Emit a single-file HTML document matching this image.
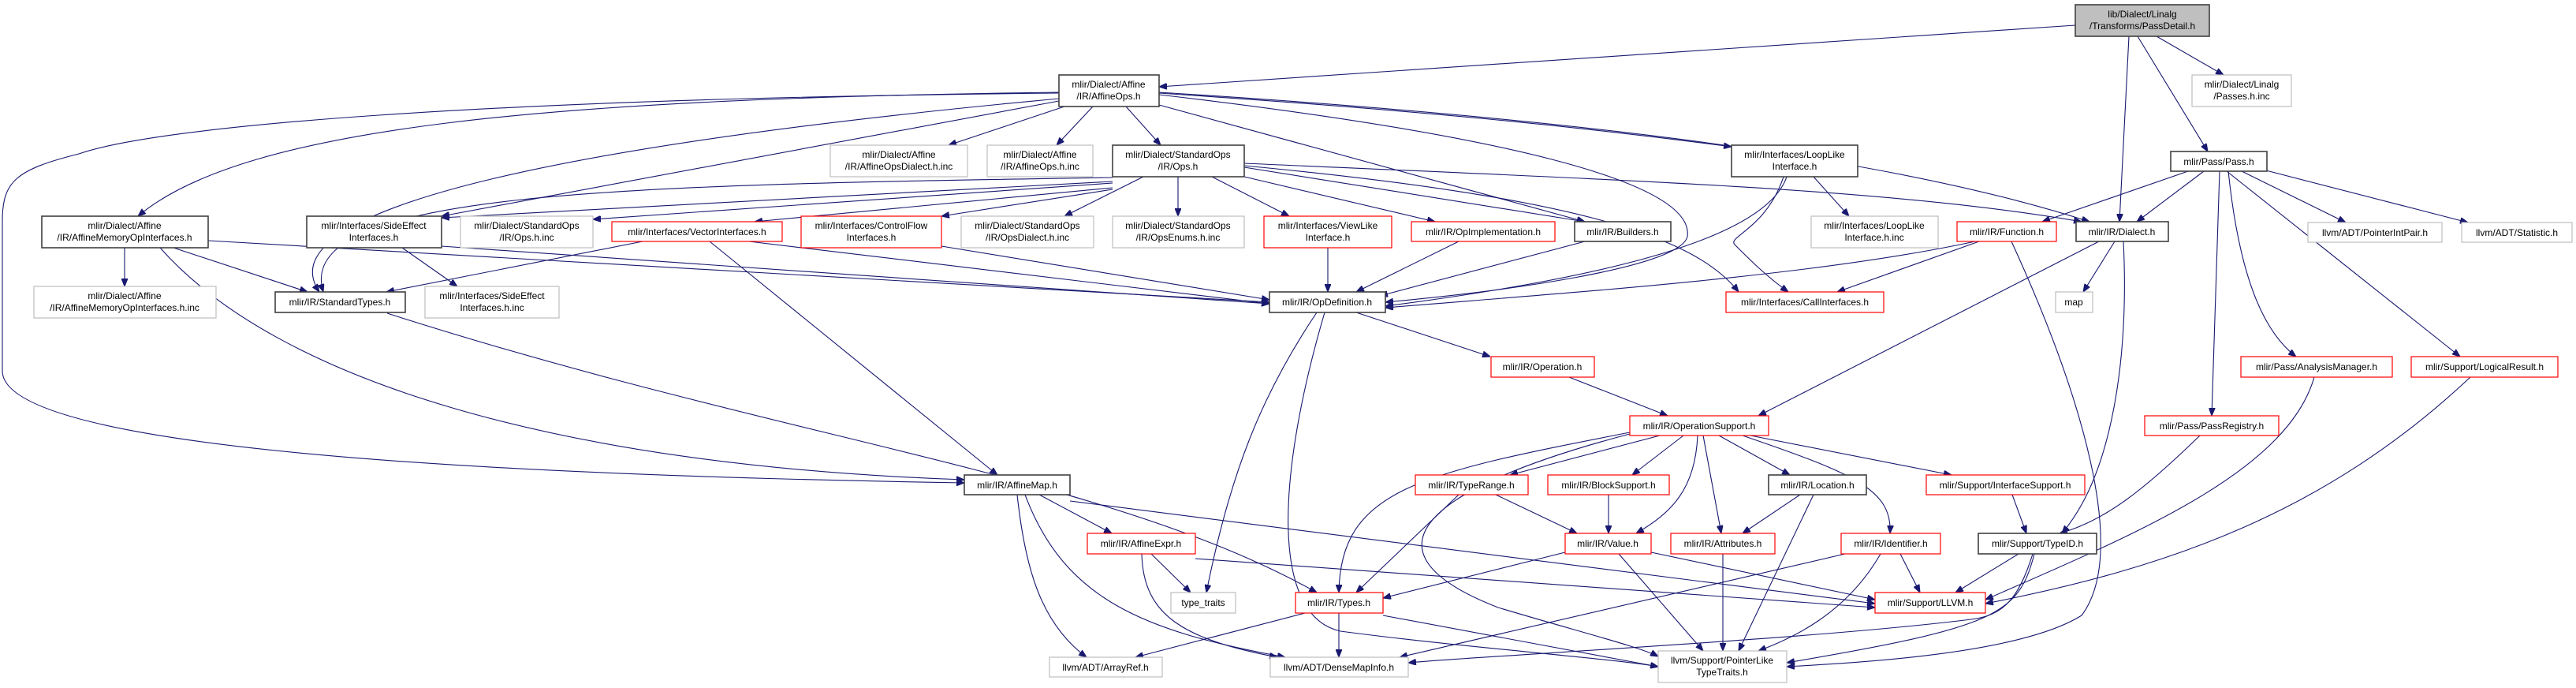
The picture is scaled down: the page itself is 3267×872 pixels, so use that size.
<!DOCTYPE html>
<html><head><meta charset="utf-8"><style>
html,body{margin:0;padding:0;background:#fff;}
svg{display:block;}
text{font-family:"Liberation Sans",sans-serif;font-size:12px;fill:#000;text-anchor:middle;}
.e{fill:none;stroke:#191970;stroke-width:1.1;marker-end:url(#a);}
.k{fill:#fff;stroke:#404040;stroke-width:1.6;}
.r{fill:#fff;stroke:#ff0000;stroke-width:1.2;}
.g{fill:#fff;stroke:#bfbfbf;stroke-width:1.2;}
.s{fill:#bfbfbf;stroke:#404040;stroke-width:1.6;}
</style></head><body>
<svg width="3267" height="872" viewBox="0 0 3267 872" xmlns="http://www.w3.org/2000/svg">
<defs><marker id="a" viewBox="0 0 10 8" refX="10" refY="4" markerWidth="10" markerHeight="8" markerUnits="userSpaceOnUse" orient="auto"><path d="M0,0 L10,4 L0,8 z" fill="#191970" stroke="#191970"/></marker></defs>
<g>
<path class="e" d="M2632,32 L1470,110"/>
<path class="e" d="M2700,46 L2688,281"/>
<path class="e" d="M2711,46 L2800,192"/>
<path class="e" d="M2735,46 L2820,95"/>
<path class="e" d="M1343,117 C700,125 310,160 175,274"/>
<path class="e" d="M1343,118 C600,125 200,160 100,195 C20,215 3,230 3,280 L3,470 C3,560 500,600 1223,612"/>
<path class="e" d="M1343,125 C750,180 330,260 405,370"/>
<path class="e" d="M1343,128 L560,274"/>
<path class="e" d="M1350,135 L1203,184"/>
<path class="e" d="M1386,135 L1340,184"/>
<path class="e" d="M1428,135 L1472,184"/>
<path class="e" d="M1470,118 C1800,140 2000,160 2196,186"/>
<path class="e" d="M1470,133 L2010,281"/>
<path class="e" d="M1470,117 C2000,150 2400,200 2650,281"/>
<path class="e" d="M1470,120 C1900,170 2150,230 2140,300 C2130,340 1900,370 1757,383"/>
<path class="e" d="M1411,225 C800,235 370,240 410,370"/>
<path class="e" d="M1411,230 L560,276"/>
<path class="e" d="M1411,232 L752,278"/>
<path class="e" d="M1411,238 L957,281"/>
<path class="e" d="M1411,240 L1194,274"/>
<path class="e" d="M1450,224 L1350,274"/>
<path class="e" d="M1494,224 L1494,274"/>
<path class="e" d="M1537,224 L1635,274"/>
<path class="e" d="M1578,224 L1820,281"/>
<path class="e" d="M1578,212 L2010,281"/>
<path class="e" d="M1578,207 C2100,230 2400,240 2640,281"/>
<path class="e" d="M1578,210 C2000,250 2150,300 2205,370"/>
<path class="e" d="M158,314 L158,363"/>
<path class="e" d="M220,314 L390,370"/>
<path class="e" d="M264,305 L1610,383"/>
<path class="e" d="M203,314 C350,480 700,590 1223,608"/>
<path class="e" d="M510,314 L580,363"/>
<path class="e" d="M560,312 L1610,385"/>
<path class="e" d="M815,306 L490,370"/>
<path class="e" d="M900,306 L1265,602"/>
<path class="e" d="M950,306 L1610,385"/>
<path class="e" d="M1194,312 L1610,380"/>
<path class="e" d="M1684,314 L1684,370"/>
<path class="e" d="M1850,306 L1720,370"/>
<path class="e" d="M2010,306 L1750,375"/>
<path class="e" d="M2266,224 C2240,300 2050,350 1757,388"/>
<path class="e" d="M2262,224 C2240,290 2190,300 2200,310 C2220,330 2240,350 2268,370"/>
<path class="e" d="M2300,224 L2345,274"/>
<path class="e" d="M2505,306 C2300,350 2000,370 1757,390"/>
<path class="e" d="M2510,306 L2330,370"/>
<path class="e" d="M2551,306 C2640,500 2700,700 2640,780 C2560,830 2350,840 2266,845"/>
<path class="e" d="M2662,306 L2230,527"/>
<path class="e" d="M2682,306 L2642,370"/>
<path class="e" d="M2693,306 C2700,450 2680,600 2615,676"/>
<path class="e" d="M2775,217 L2590,281"/>
<path class="e" d="M2795,217 L2710,281"/>
<path class="e" d="M2843,217 L2975,282"/>
<path class="e" d="M2870,215 L3130,282"/>
<path class="e" d="M2826,217 C2840,350 2870,420 2912,452"/>
<path class="e" d="M2824,217 L3120,452"/>
<path class="e" d="M2815,217 L2805,527"/>
<path class="e" d="M1720,396 L1890,452"/>
<path class="e" d="M1670,396 C1600,500 1560,600 1530,751"/>
<path class="e" d="M1680,396 C1620,600 1610,780 1700,800 C1850,820 2050,835 2103,845"/>
<path class="e" d="M1990,478 L2115,527"/>
<path class="e" d="M2067,548 C1800,600 1700,620 1698,751"/>
<path class="e" d="M2067,550 C1800,620 1720,700 1900,770 C2000,800 2080,820 2103,832"/>
<path class="e" d="M2105,552 L1915,602"/>
<path class="e" d="M2135,552 L2070,602"/>
<path class="e" d="M2153,552 C2150,620 2120,650 2075,676"/>
<path class="e" d="M2160,552 L2183,676"/>
<path class="e" d="M2180,552 L2270,602"/>
<path class="e" d="M2210,552 C2350,600 2400,620 2397,676"/>
<path class="e" d="M2220,552 L2475,602"/>
<path class="e" d="M1290,627 C1300,720 1320,790 1378,833"/>
<path class="e" d="M1300,627 C1350,760 1450,800 1630,833"/>
<path class="e" d="M1318,627 L1410,676"/>
<path class="e" d="M1357,635 L2378,765"/>
<path class="e" d="M1460,702 L1510,751"/>
<path class="e" d="M1448,702 C1450,780 1500,810 1620,833"/>
<path class="e" d="M1516,708 L2378,770"/>
<path class="e" d="M1850,627 L1720,751"/>
<path class="e" d="M1897,627 L2000,676"/>
<path class="e" d="M2040,627 L2040,676"/>
<path class="e" d="M1985,700 L1754,758"/>
<path class="e" d="M2053,702 L2160,825"/>
<path class="e" d="M2094,700 L2378,760"/>
<path class="e" d="M2185,702 L2185,825"/>
<path class="e" d="M2283,627 L2210,676"/>
<path class="e" d="M2300,627 L2205,825"/>
<path class="e" d="M2410,702 L2435,751"/>
<path class="e" d="M2385,702 C2340,780 2270,810 2230,825"/>
<path class="e" d="M2340,702 L1775,833"/>
<path class="e" d="M2552,627 L2570,676"/>
<path class="e" d="M2560,702 L2480,751"/>
<path class="e" d="M2580,702 C2560,780 2530,795 2266,840"/>
<path class="e" d="M2578,702 C2560,760 2540,780 2500,785 C2300,810 1900,830 1786,840"/>
<path class="e" d="M2790,552 C2720,620 2670,660 2612,676"/>
<path class="e" d="M2935,478 C2900,600 2700,680 2518,760"/>
<path class="e" d="M3133,478 C2950,650 2750,720 2518,765"/>
<path class="e" d="M1655,777 L1440,833"/>
<path class="e" d="M1698,777 L1698,833"/>
<path class="e" d="M1754,780 L2103,845"/>
<path class="e" d="M491,397 C1000,560 1400,600 1670,751"/>
</g>
<g>
<rect class="s" x="2632" y="6" width="170" height="40"/><text x="2717" y="22">lib/Dialect/Linalg</text><text x="2717" y="37">/Transforms/PassDetail.h</text>
<rect class="k" x="1343" y="95" width="127" height="40"/><text x="1406" y="111">mlir/Dialect/Affine</text><text x="1406" y="126">/IR/AffineOps.h</text>
<rect class="g" x="2780" y="95" width="126" height="40"/><text x="2843" y="111">mlir/Dialect/Linalg</text><text x="2843" y="126">/Passes.h.inc</text>
<rect class="g" x="1053" y="184" width="174" height="40"/><text x="1140" y="200">mlir/Dialect/Affine</text><text x="1140" y="215">/IR/AffineOpsDialect.h.inc</text>
<rect class="g" x="1252" y="184" width="134" height="40"/><text x="1319" y="200">mlir/Dialect/Affine</text><text x="1319" y="215">/IR/AffineOps.h.inc</text>
<rect class="k" x="1411" y="184" width="167" height="40"/><text x="1494" y="200">mlir/Dialect/StandardOps</text><text x="1494" y="215">/IR/Ops.h</text>
<rect class="k" x="2196" y="184" width="160" height="40"/><text x="2276" y="200">mlir/Interfaces/LoopLike</text><text x="2276" y="215">Interface.h</text>
<rect class="k" x="2753" y="192" width="122" height="25"/><text x="2814" y="209">mlir/Pass/Pass.h</text>
<rect class="k" x="53" y="274" width="211" height="40"/><text x="158" y="290">mlir/Dialect/Affine</text><text x="158" y="305">/IR/AffineMemoryOpInterfaces.h</text>
<rect class="k" x="389" y="274" width="171" height="40"/><text x="474" y="290">mlir/Interfaces/SideEffect</text><text x="474" y="305">Interfaces.h</text>
<rect class="g" x="584" y="274" width="168" height="40"/><text x="668" y="290">mlir/Dialect/StandardOps</text><text x="668" y="305">/IR/Ops.h.inc</text>
<rect class="r" x="776" y="281" width="216" height="25"/><text x="884" y="298">mlir/Interfaces/VectorInterfaces.h</text>
<rect class="r" x="1016" y="274" width="178" height="40"/><text x="1105" y="290">mlir/Interfaces/ControlFlow</text><text x="1105" y="305">Interfaces.h</text>
<rect class="g" x="1219" y="274" width="168" height="40"/><text x="1303" y="290">mlir/Dialect/StandardOps</text><text x="1303" y="305">/IR/OpsDialect.h.inc</text>
<rect class="g" x="1411" y="274" width="167" height="40"/><text x="1494" y="290">mlir/Dialect/StandardOps</text><text x="1494" y="305">/IR/OpsEnums.h.inc</text>
<rect class="r" x="1603" y="274" width="162" height="40"/><text x="1684" y="290">mlir/Interfaces/ViewLike</text><text x="1684" y="305">Interface.h</text>
<rect class="r" x="1790" y="281" width="182" height="25"/><text x="1881" y="298">mlir/IR/OpImplementation.h</text>
<rect class="k" x="1997" y="281" width="122" height="25"/><text x="2058" y="298">mlir/IR/Builders.h</text>
<rect class="g" x="2297" y="274" width="161" height="40"/><text x="2377" y="290">mlir/Interfaces/LoopLike</text><text x="2377" y="305">Interface.h.inc</text>
<rect class="r" x="2482" y="281" width="126" height="25"/><text x="2545" y="298">mlir/IR/Function.h</text>
<rect class="k" x="2633" y="281" width="117" height="25"/><text x="2691" y="298">mlir/IR/Dialect.h</text>
<rect class="g" x="2927" y="282" width="170" height="25"/><text x="3012" y="299">llvm/ADT/PointerIntPair.h</text>
<rect class="g" x="3122" y="282" width="140" height="25"/><text x="3192" y="299">llvm/ADT/Statistic.h</text>
<rect class="g" x="43" y="363" width="231" height="40"/><text x="158" y="379">mlir/Dialect/Affine</text><text x="158" y="394">/IR/AffineMemoryOpInterfaces.h.inc</text>
<rect class="k" x="349" y="370" width="165" height="26"/><text x="431" y="387">mlir/IR/StandardTypes.h</text>
<rect class="g" x="539" y="363" width="170" height="40"/><text x="624" y="379">mlir/Interfaces/SideEffect</text><text x="624" y="394">Interfaces.h.inc</text>
<rect class="k" x="1610" y="370" width="147" height="26"/><text x="1683" y="387">mlir/IR/OpDefinition.h</text>
<rect class="r" x="2189" y="370" width="200" height="26"/><text x="2289" y="387">mlir/Interfaces/CallInterfaces.h</text>
<rect class="g" x="2607" y="370" width="47" height="26"/><text x="2630" y="387">map</text>
<rect class="r" x="1891" y="452" width="131" height="26"/><text x="1956" y="469">mlir/IR/Operation.h</text>
<rect class="r" x="2842" y="452" width="192" height="26"/><text x="2938" y="469">mlir/Pass/AnalysisManager.h</text>
<rect class="r" x="3058" y="452" width="186" height="26"/><text x="3151" y="469">mlir/Support/LogicalResult.h</text>
<rect class="r" x="2067" y="527" width="176" height="25"/><text x="2155" y="544">mlir/IR/OperationSupport.h</text>
<rect class="r" x="2720" y="527" width="170" height="25"/><text x="2805" y="544">mlir/Pass/PassRegistry.h</text>
<rect class="k" x="1223" y="602" width="134" height="25"/><text x="1290" y="619">mlir/IR/AffineMap.h</text>
<rect class="r" x="1795" y="602" width="143" height="25"/><text x="1866" y="619">mlir/IR/TypeRange.h</text>
<rect class="r" x="1963" y="602" width="154" height="25"/><text x="2040" y="619">mlir/IR/BlockSupport.h</text>
<rect class="k" x="2243" y="602" width="124" height="25"/><text x="2305" y="619">mlir/IR/Location.h</text>
<rect class="r" x="2443" y="602" width="201" height="25"/><text x="2543" y="619">mlir/Support/InterfaceSupport.h</text>
<rect class="r" x="1379" y="676" width="137" height="26"/><text x="1447" y="693">mlir/IR/AffineExpr.h</text>
<rect class="r" x="1985" y="676" width="109" height="26"/><text x="2039" y="693">mlir/IR/Value.h</text>
<rect class="r" x="2119" y="676" width="132" height="26"/><text x="2185" y="693">mlir/IR/Attributes.h</text>
<rect class="r" x="2335" y="676" width="126" height="26"/><text x="2398" y="693">mlir/IR/Identifier.h</text>
<rect class="k" x="2509" y="676" width="150" height="26"/><text x="2584" y="693">mlir/Support/TypeID.h</text>
<rect class="g" x="1485" y="751" width="82" height="26"/><text x="1526" y="768">type_traits</text>
<rect class="r" x="1643" y="751" width="111" height="26"/><text x="1698" y="768">mlir/IR/Types.h</text>
<rect class="r" x="2378" y="751" width="140" height="26"/><text x="2448" y="768">mlir/Support/LLVM.h</text>
<rect class="g" x="1331" y="833" width="143" height="25"/><text x="1402" y="850">llvm/ADT/ArrayRef.h</text>
<rect class="g" x="1611" y="833" width="175" height="25"/><text x="1698" y="850">llvm/ADT/DenseMapInfo.h</text>
<rect class="g" x="2103" y="825" width="163" height="40"/><text x="2184" y="841">llvm/Support/PointerLike</text><text x="2184" y="856">TypeTraits.h</text>
</g>
</svg>
</body></html>
